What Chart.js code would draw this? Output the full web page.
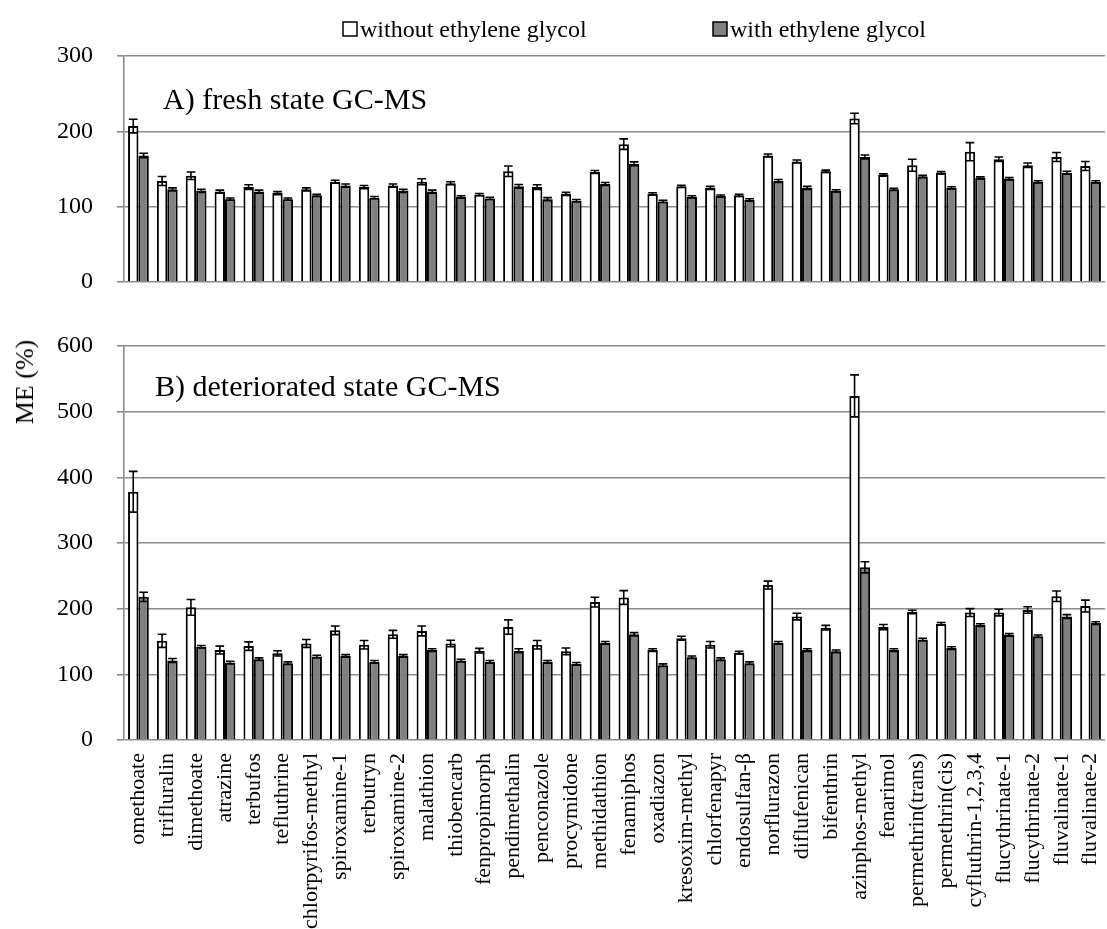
<!DOCTYPE html>
<html>
<head>
<meta charset="utf-8">
<script src="https://cdn.jsdelivr.net/npm/chart.js@4.4.1/dist/chart.umd.min.js"></script>
<style>
  html, body { margin: 0; padding: 0; background: #fff; }
  body { width: 1107px; height: 929px; position: relative; overflow: hidden; }
  #cA { position: absolute; left: 0; top: 0; }
  #cB { position: absolute; left: 0; top: 300px; }
  #ylab {
    position: absolute; left: 25px; top: 382px;
    transform: translate(-50%, -50%) rotate(-90deg);
    font: 26px "Liberation Serif", "Times New Roman", serif;
    white-space: nowrap; color: #000;
  }
</style>
</head>
<body>
<canvas id="cA" width="1107" height="300"></canvas>
<canvas id="cB" width="1107" height="629"></canvas>
<div id="ylab">ME (%)</div>
<script>
// Pesticides measured by GC-MS
const compounds = [
  'omethoate', 'trifluralin', 'dimethoate', 'atrazine', 'terbufos', 'tefluthrine',
  'chlorpyrifos-methyl', 'spiroxamine-1', 'terbutryn', 'spiroxamine-2', 'malathion',
  'thiobencarb', 'fenpropimorph', 'pendimethalin', 'penconazole', 'procymidone',
  'methidathion', 'fenamiphos', 'oxadiazon', 'kresoxim-methyl', 'chlorfenapyr',
  'endosulfan-β', 'norflurazon', 'diflufenican', 'bifenthrin', 'azinphos-methyl',
  'fenarimol', 'permethrin(trans)', 'permethrin(cis)', 'cyfluthrin-1,2,3,4',
  'flucythrinate-1', 'flucythrinate-2', 'fluvalinate-1', 'fluvalinate-2'
];

const seriesNames = ['without ethylene glycol', 'with ethylene glycol'];

// A) fresh state — matrix effect (%) and standard deviation
const freshWithout    = [207,134,141,120,126,118,123,133,126,128,133,131,116,147,126,117,146,183,117,127,125,115,168,160,147,217,142,155,145,173,163,155,166,154];
const freshWithoutErr = [9,6,5,2,3,2,2,2,2,2,4,2,1.5,7,3,2,2,7,1.5,1.5,2,1.5,2,2,1.5,7,1.5,8,1.5,12,3,3,6,6];
const freshWith       = [168,123,121,110,120,110,115,128,112,121,120,113,111,127,110,108,130,157,107,113,114,109,134,125,121,166,123,140,125,138,137,133,145,133];
const freshWithErr    = [3,2,2,1.5,2,1.5,1.5,2,1.5,2,2,1.5,1.5,2.5,2,1.5,2,2.5,1.5,1.5,1.5,1.5,2,2,1.5,2.5,1.5,1.5,1.5,1.5,1.5,1.5,2,1.5];

// B) deteriorated state — matrix effect (%) and standard deviation
const detWithout    = [378,151,202,137,143,132,147,167,145,161,166,147,136,172,145,135,210,217,137,155,145,133,236,188,171,524,172,195,177,194,194,198,219,204];
const detWithoutErr = [31,10,12,6,6.5,4,6,6.5,6.5,6,7.5,5,3.5,11,6.5,5,7.5,10.5,2,3,5,2,6,5,3.5,32,4,2.5,2,6,5,5,8,9];
const detWith       = [218,121,142,118,123,117,127,128,119,128,137,121,119,136,119,116,148,161,114,126,123,117,148,137,135,263,137,153,140,175,160,158,188,178];
const detWithErr    = [7,3,2,2,2,2,2,2,2,2,2,2,2,3,2,2,2,2.5,2,2,2,2,2,2,2,8.5,2,2,2,2,2,2,3,2];

const ticksA = [0, 100, 200, 300];
const ticksB = [0, 100, 200, 300, 400, 500, 600];

const SERIF = '"Liberation Serif", "Times New Roman", serif';
const GRID = '#8c8c8c';
const FILLS = ['#ffffff', '#808080'];

// symmetric error bars centred on each bar top
const errorBars = {
  id: 'errorBars',
  afterDatasetsDraw(chart) {
    const ctx = chart.ctx;
    chart.data.datasets.forEach((ds, i) => {
      if (!ds.errors) return;
      const meta = chart.getDatasetMeta(i);
      const ys = chart.scales[meta.yAxisID];
      ctx.save();
      ctx.strokeStyle = '#000';
      ctx.lineWidth = 1.6;
      meta.data.forEach((bar, j) => {
        const v = ds.data[j], e = ds.errors[j];
        const x = bar.x;
        const t = ys.getPixelForValue(v + e);
        const b = ys.getPixelForValue(v - e);
        const hw = bar.width * 0.42;
        ctx.beginPath();
        ctx.moveTo(x, t); ctx.lineTo(x, b);
        ctx.moveTo(x - hw, t); ctx.lineTo(x + hw, t);
        ctx.moveTo(x - hw, b); ctx.lineTo(x + hw, b);
        ctx.stroke();
      });
      ctx.restore();
    });
  }
};

// panel caption inside the plot area
const panelTitle = {
  id: 'panelTitle',
  afterDraw(chart, args, opts) {
    const ctx = chart.ctx;
    ctx.save();
    ctx.font = '30px ' + SERIF;
    ctx.fillStyle = '#000';
    ctx.textBaseline = 'alphabetic';
    ctx.fillText(opts.text, opts.x, opts.y);
    ctx.restore();
  }
};

// series key above the upper panel
const seriesKey = {
  id: 'seriesKey',
  afterDraw(chart, args, opts) {
    if (!opts.show) return;
    const ctx = chart.ctx;
    ctx.save();
    ctx.font = '24px ' + SERIF;
    ctx.textBaseline = 'alphabetic';
    opts.items.forEach((it, k) => {
      ctx.fillStyle = FILLS[k];
      ctx.fillRect(it.x, 22, 14, 14);
      ctx.strokeStyle = '#000';
      ctx.lineWidth = 1.5;
      ctx.strokeRect(it.x, 22, 14, 14);
      ctx.fillStyle = '#000';
      ctx.fillText(seriesNames[k], it.x + 17, 37);
    });
    ctx.restore();
  }
};

function barSet(label, data, errors, k) {
  return {
    label, data, errors,
    yAxisID: 'y',
    backgroundColor: FILLS[k],
    borderColor: '#000',
    borderWidth: 2,
    borderSkipped: 'start',
    barPercentage: 1.0,
    categoryPercentage: 0.72
  };
}

function yAxis(max, ticks) {
  return {
    min: 0, max: max,
    afterFit(s) { s.width = 124; s.paddingTop = 0; s.paddingBottom = 0; },
    afterBuildTicks(s) { s.ticks = ticks.map(v => ({ value: v })); },
    grid: { color: GRID, lineWidth: 1.6, tickLength: 7, drawTicks: true },
    border: { display: true, color: GRID, width: 1.6 },
    ticks: { color: '#000', font: { family: SERIF, size: 24 }, padding: 24 }
  };
}

Chart.defaults.animation = false;

new Chart(document.getElementById('cA'), {
  type: 'bar',
  data: {
    labels: compounds,
    datasets: [
      barSet(seriesNames[0], freshWithout, freshWithoutErr, 0),
      barSet(seriesNames[1], freshWith, freshWithErr, 1)
    ]
  },
  options: {
    responsive: false,
    layout: { padding: { top: 56, right: 2, left: 0, bottom: 18 } },
    plugins: {
      legend: { display: false },
      tooltip: { enabled: false },
      panelTitle: { text: 'A) fresh state GC-MS', x: 163, y: 109 },
      seriesKey: { show: true, items: [{ x: 343 }, { x: 713 }] }
    },
    scales: {
      x: { display: false },
      y: yAxis(300, ticksA)
    }
  },
  plugins: [errorBars, panelTitle, seriesKey]
});

new Chart(document.getElementById('cB'), {
  type: 'bar',
  data: {
    labels: compounds,
    datasets: [
      barSet(seriesNames[0], detWithout, detWithoutErr, 0),
      barSet(seriesNames[1], detWith, detWithErr, 1)
    ]
  },
  options: {
    responsive: false,
    layout: { padding: { top: 46, right: 2, left: 0, bottom: 0 } },
    plugins: {
      legend: { display: false },
      tooltip: { enabled: false },
      panelTitle: { text: 'B) deteriorated state GC-MS', x: 155, y: 96 },
      seriesKey: { show: false }
    },
    scales: {
      x: {
        afterFit(s) { s.height = 189; s.paddingLeft = 0; s.paddingRight = 0; },
        grid: { display: false },
        border: { display: false },
        ticks: {
          color: '#000', font: { family: SERIF, size: 22 },
          minRotation: 90, maxRotation: 90, autoSkip: false, padding: 5
        }
      },
      y: yAxis(600, ticksB)
    }
  },
  plugins: [errorBars, panelTitle, seriesKey]
});
</script>
</body>
</html>
